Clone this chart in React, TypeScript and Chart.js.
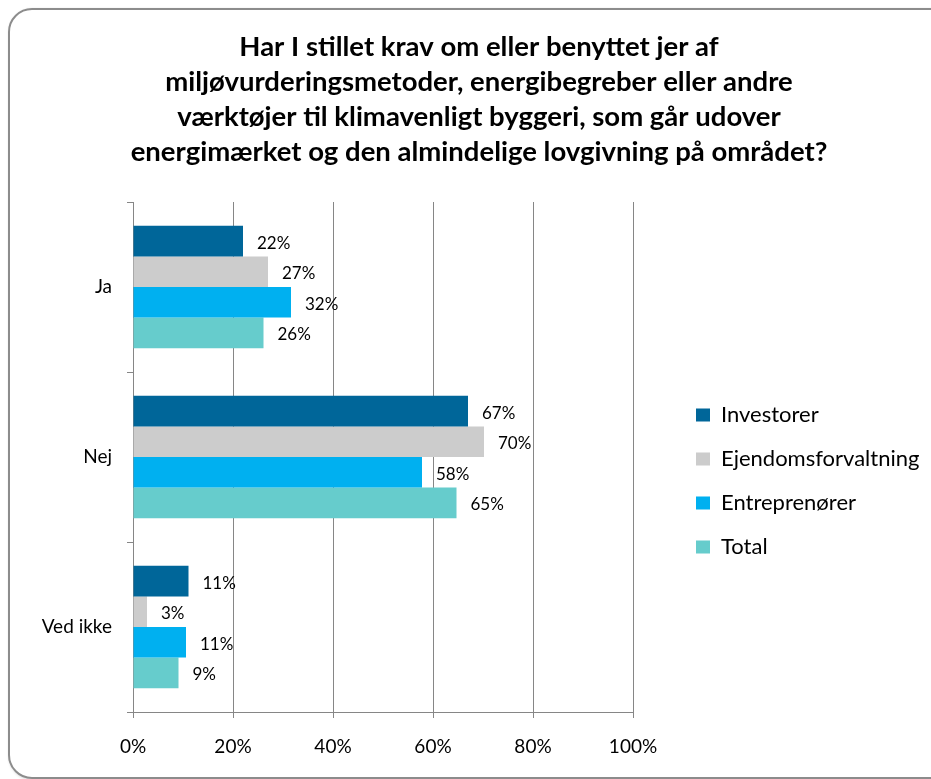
import React, { useEffect, useRef } from "react";
import { Chart, registerables } from "chart.js";

Chart.register(...registerables);

// ---- data ----
const categories = ["Ja", "Nej", "Ved ikke"];
const seriesNames = ["Investorer", "Ejendomsforvaltning", "Entreprenører", "Total"];
const investorer = [22.0, 67.0, 11.1];
const ejendomsforvaltning = [27.0, 70.2, 2.8];
const entreprenoerer = [31.6, 57.8, 10.6];
const total = [26.1, 64.7, 9.1];
const seriesColors = ["#006699", "#CCCCCC", "#00B0F0", "#66CCCC"];
const xTickValues = [0, 20, 40, 60, 80, 100];
const titleLines = [
  "Har I stillet krav om eller benyttet jer af",
  "miljøvurderingsmetoder, energibegreber eller andre",
  "værktøjer til klimavenligt byggeri, som går udover",
  "energimærket og den almindelige lovgivning på området?",
];

const FONT = "Lato, 'Open Sans', sans-serif";
const CANVAS_W = 980;
const CANVAS_H = 779;

const dataLabelPlugin = {
  id: "barValueLabels",
  afterDatasetsDraw(chart: any) {
    const ctx = chart.ctx;
    ctx.save();
    ctx.font = `17px ${FONT}`;
    ctx.fillStyle = "#000000";
    ctx.textAlign = "left";
    ctx.textBaseline = "middle";
    chart.data.datasets.forEach((ds: any, i: number) => {
      const meta = chart.getDatasetMeta(i);
      meta.data.forEach((bar: any, j: number) => {
        const v = ds.data[j];
        ctx.fillText(`${Math.round(v)}%`, bar.x + 14, bar.y + 2);
      });
    });
    ctx.restore();
  },
};

const legendShiftPlugin = {
  id: "legendShift",
  afterLayout(chart: any) {
    const lg = chart.legend;
    if (lg) {
      const shift = 41;
      lg.left += shift;
      lg.right += shift + 60;
      lg.width += 60;
    }
  },
};

export default function App() {
  const canvasRef = useRef<HTMLCanvasElement | null>(null);

  useEffect(() => {
    if (!canvasRef.current) return;
    const seriesData = [investorer, ejendomsforvaltning, entreprenoerer, total];
    const chart = new Chart(canvasRef.current, {
      type: "bar",
      data: {
        labels: categories,
        datasets: seriesNames.map((name, i) => ({
          label: name,
          data: seriesData[i],
          backgroundColor: seriesColors[i],
          borderWidth: 0,
          categoryPercentage: 0.72,
          barPercentage: 1.0,
        })),
      },
      options: {
        indexAxis: "y",
        responsive: false,
        animation: false,
        devicePixelRatio: 1,
        layout: { padding: { left: 0, right: 22, top: 0, bottom: 0 } },
        scales: {
          x: {
            min: 0,
            max: 100,
            afterBuildTicks(scale: any) {
              scale.ticks = xTickValues.map((v) => ({ value: v }));
            },
            afterFit(scale: any) {
              scale.height = 67;
              scale.paddingRight = 347;
            },
            ticks: {
              callback: (v: any) => `${v}%`,
              font: { family: FONT, size: 19 },
              color: "#000000",
              padding: 17,
              maxRotation: 0,
            },
            grid: {
              color: "#868686",
              lineWidth: 1,
              tickLength: 6,
              drawTicks: true,
            },
            border: { display: true, color: "#868686", width: 1 },
          },
          y: {
            afterFit(scale: any) {
              scale.width = 133;
            },
            ticks: {
              font: { family: FONT, size: 19 },
              color: "#000000",
              padding: 15,
            },
            grid: {
              offset: true,
              drawOnChartArea: false,
              color: "#868686",
              tickLength: 6,
            },
            border: { display: true, color: "#868686", width: 1 },
          },
        },
        plugins: {
          title: {
            display: true,
            text: titleLines,
            color: "#000000",
            font: { family: FONT, size: 27.5, weight: "bold", lineHeight: "35px" },
            padding: { top: 29.5, bottom: 32.5 },
          },
          legend: {
            display: true,
            position: "right",
            fullSize: false,
            align: "center",
            title: { display: true, text: "", font: { size: 8, lineHeight: 1 }, padding: 20 },
            labels: {
              boxWidth: 14,
              boxHeight: 13,
              padding: 22,
              color: "#000000",
              font: { family: FONT, size: 22 },
            },
          },
          tooltip: { enabled: false },
        },
      },
      plugins: [dataLabelPlugin, legendShiftPlugin],
    } as any);
    return () => chart.destroy();
  }, []);

  return (
    <div
      style={{
        position: "fixed",
        left: 0,
        top: 0,
        width: "100vw",
        height: "100vh",
        overflow: "hidden",
        background: "#ffffff",
      }}
    >
      <div
        style={{
          position: "absolute",
          left: 8,
          top: 8,
          width: 950,
          height: 767,
          border: "2px solid #8c8c8c",
          borderRadius: 24,
          boxShadow: "1px 1px 3px rgba(0,0,0,0.18)",
          background: "#ffffff",
        }}
      />
      <canvas
        ref={canvasRef}
        width={CANVAS_W}
        height={CANVAS_H}
        style={{ position: "absolute", left: 0, top: 0, width: CANVAS_W, height: CANVAS_H }}
      />
    </div>
  );
}
